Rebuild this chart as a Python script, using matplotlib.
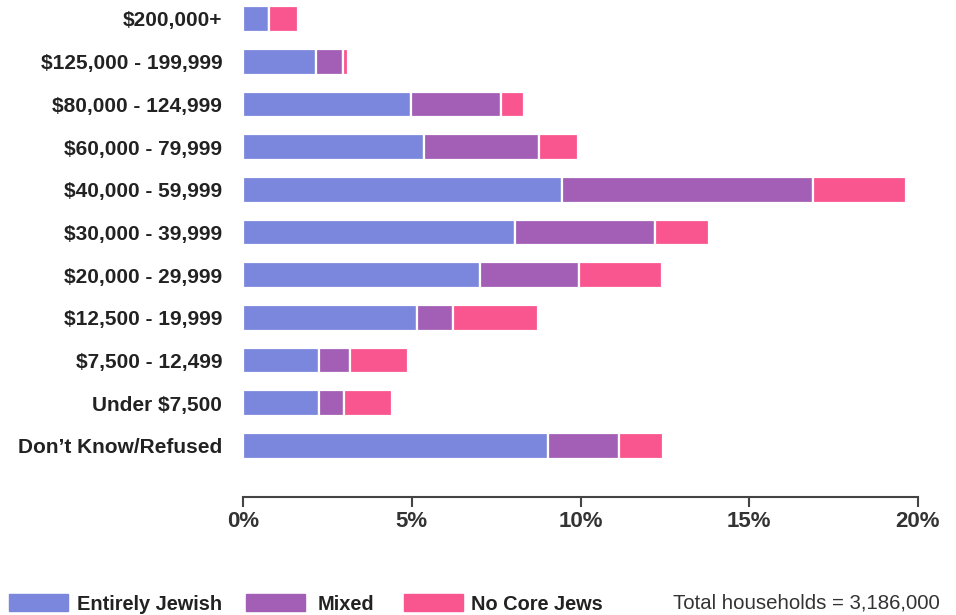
import matplotlib
matplotlib.use("Agg")
import matplotlib.pyplot as plt
from matplotlib.patches import Rectangle
import numpy as np

plt.rcParams['font.family'] = ['Liberation Sans', 'DejaVu Sans']

categories = ["$200,000+", "$125,000 - 199,999", "$80,000 - 124,999", "$60,000 - 79,999",
              "$40,000 - 59,999", "$30,000 - 39,999", "$20,000 - 29,999", "$12,500 - 19,999",
              "$7,500 - 12,499", "Under $7,500", "Don\u2019t Know/Refused"]
entirely_jewish = [0.78, 2.16, 4.97, 5.35, 9.44, 8.07, 7.02, 5.17, 2.26, 2.26, 9.04]
mixed = [0.0, 0.79, 2.67, 3.41, 7.45, 4.14, 2.94, 1.05, 0.91, 0.72, 2.10]
no_core = [0.84, 0.17, 0.69, 1.16, 2.74, 1.59, 2.46, 2.51, 1.71, 1.43, 1.30]
series_names = ["Entirely Jewish", "Mixed", "No Core Jews"]
colors = ["#7b87dd", "#a35fb5", "#f9558f"]
xticks = [0, 5, 10, 15, 20]
total_note = "Total households = 3,186,000"

fig = plt.figure(figsize=(9.56, 6.15), dpi=100)
ax = fig.add_axes([243 / 956, 1 - 497 / 615, 675 / 956, 497 / 615])

y = np.arange(len(categories))
left = np.zeros(len(categories))
for vals, c in zip([entirely_jewish, mixed, no_core], colors):
    vals = np.array(vals)
    ax.barh(y, vals, left=left, height=0.6, color=c, edgecolor="white", linewidth=1.6)
    left += vals

ax.set_xlim(0, 20)
ax.set_ylim(10 + 51 / 42.7, -19 / 42.7)
ax.set_yticks(y)
ax.set_yticklabels(categories, fontsize=15, fontweight="bold", color="#222222")
ax.tick_params(axis="y", length=0, pad=15)
ax.set_xticks(xticks)
ax.set_xticklabels([f"{t}%" for t in xticks], fontsize=16, fontweight="bold", color="#333333")
ax.tick_params(axis="x", direction="out", length=7, width=1.5, color="#444444", pad=3)
for s in ["top", "right", "left"]:
    ax.spines[s].set_visible(False)
ax.spines["bottom"].set_linewidth(1.5)
ax.spines["bottom"].set_color("#444444")
ax.spines["bottom"].set_bounds(0, 20)

# legend along the bottom
leg_x = [9, 246, 404]
txt_x = [77, 318, 471]
for lx, tx, name, c in zip(leg_x, txt_x, series_names, colors):
    fig.add_artist(Rectangle((lx / 956, 1 - 611 / 615), 59 / 956, 17 / 615,
                             transform=fig.transFigure, color=c))
    fig.text(tx / 956, 1 - 604 / 615, name, fontsize=14.4, fontweight="bold",
             color="#222222", va="center", ha="left")
fig.text(940 / 956, 1 - 603 / 615, total_note, fontsize=14.7, color="#333333",
         va="center", ha="right")

fig.savefig("out.png", dpi=100)
